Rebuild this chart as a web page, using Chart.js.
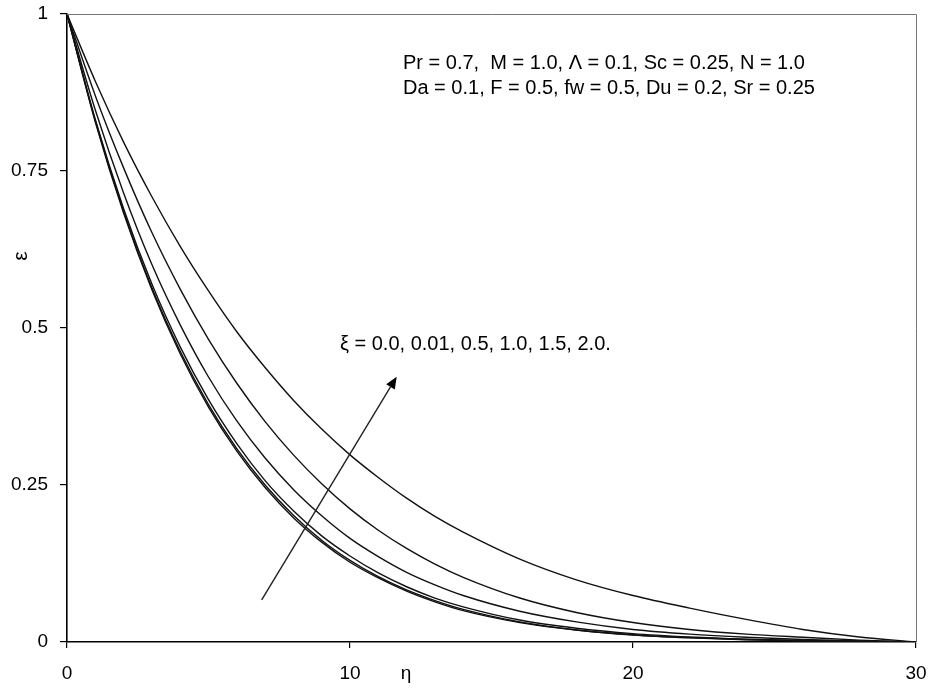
<!DOCTYPE html>
<html>
<head>
<meta charset="utf-8">
<script src="https://cdn.jsdelivr.net/npm/chart.js@4.4.0/dist/chart.umd.min.js"></script>
<style>
html,body{margin:0;padding:0;background:#fff;}
#wrap{width:930px;height:688px;}
</style>
</head>
<body>
<div id="wrap"><canvas id="c" width="930" height="688"></canvas></div>
<script>
// ---- data ----
const etaValues = [0,1,2,3,4,5,6,7,8,9,10,11,12,13,14,16,18,20,22,24,26,28,30];
const xiLabels = ['0.0','0.01','0.5','1.0','1.5','2.0'];
const phiXi00  = [1,0.828,0.683,0.561,0.459,0.374,0.304,0.246,0.198,0.159,0.127,0.102,0.081,0.064,0.050,0.031,0.019,0.011,0.0065,0.0037,0.002,0.0008,0];
const phiXi001 = [1,0.830,0.686,0.564,0.463,0.378,0.308,0.250,0.202,0.162,0.130,0.104,0.083,0.066,0.052,0.032,0.019,0.0116,0.007,0.004,0.002,0.001,0];
const phiXi05  = [1,0.832,0.690,0.570,0.470,0.386,0.316,0.257,0.209,0.169,0.137,0.110,0.088,0.070,0.056,0.035,0.022,0.0133,0.008,0.0045,0.0022,0.001,0];
const phiXi10  = [1,0.847,0.715,0.601,0.505,0.422,0.352,0.293,0.243,0.201,0.165,0.136,0.111,0.091,0.074,0.049,0.032,0.020,0.0125,0.0075,0.004,0.0015,0];
const phiXi15  = [1,0.870,0.755,0.652,0.562,0.482,0.412,0.351,0.298,0.252,0.212,0.178,0.149,0.124,0.103,0.070,0.047,0.031,0.020,0.0125,0.0075,0.003,0];
const phiXi20  = [1,0.893,0.796,0.709,0.630,0.559,0.494,0.437,0.385,0.339,0.298,0.262,0.229,0.200,0.175,0.132,0.099,0.074,0.054,0.036,0.020,0.008,0];
const xTicks = [0,10,20,30];
const yTicks = [0,0.25,0.5,0.75,1];
const paramLine1 = 'Pr = 0.7,  M = 1.0, Λ = 0.1, Sc = 0.25, N = 1.0';
const paramLine2 = 'Da = 0.1, F = 0.5, fw = 0.5, Du = 0.2, Sr = 0.25';
const xiText = 'ξ = 0.0, 0.01, 0.5, 1.0, 1.5, 2.0.';
const arrowFrom = {x: 6.88, y: 0.067};
const arrowTo = {x: 11.65, y: 0.4225};
const xTitle = 'η';
const yTitle = 'ε';

const series = [phiXi00, phiXi001, phiXi05, phiXi10, phiXi15, phiXi20];
const FONT = '"Liberation Sans", Arial, sans-serif';

const datasets = series.map((arr, i) => ({
  label: 'ξ = ' + xiLabels[i],
  data: etaValues.map((e, j) => ({x: e, y: arr[j]})),
  borderColor: '#111',
  borderWidth: 1.4,
  pointRadius: 0,
  fill: false,
  cubicInterpolationMode: 'monotone'
}));

const annot = {
  id: 'annot',
  afterDraw(chart) {
    const ctx = chart.ctx;
    const a = chart.chartArea;
    const xs = chart.scales.x, ys = chart.scales.y;
    ctx.save();
    ctx.strokeStyle = '#777';
    ctx.lineWidth = 1;
    ctx.beginPath();
    ctx.moveTo(a.left, a.top + 0.5);
    ctx.lineTo(a.right + 0.5, a.top + 0.5);
    ctx.lineTo(a.right + 0.5, a.bottom);
    ctx.stroke();
    ctx.fillStyle = '#000';
    ctx.font = '20px ' + FONT;
    ctx.textAlign = 'left';
    ctx.textBaseline = 'alphabetic';
    ctx.fillText(paramLine1, 403, 69);
    ctx.fillText(paramLine2, 403, 94);
    ctx.fillText(xiText, 340, 350);
    const x0 = xs.getPixelForValue(arrowFrom.x), y0 = ys.getPixelForValue(arrowFrom.y);
    const x1 = xs.getPixelForValue(arrowTo.x), y1 = ys.getPixelForValue(arrowTo.y);
    const ang = Math.atan2(y1 - y0, x1 - x0);
    const hl = 12, hw = 5;
    ctx.strokeStyle = '#222';
    ctx.lineWidth = 1.4;
    ctx.beginPath();
    ctx.moveTo(x0, y0);
    ctx.lineTo(x1 - hl * Math.cos(ang), y1 - hl * Math.sin(ang));
    ctx.stroke();
    ctx.fillStyle = '#000';
    ctx.beginPath();
    ctx.moveTo(x1, y1);
    ctx.lineTo(x1 - hl * Math.cos(ang) + hw * Math.sin(ang), y1 - hl * Math.sin(ang) - hw * Math.cos(ang));
    ctx.lineTo(x1 - hl * Math.cos(ang) - hw * Math.sin(ang), y1 - hl * Math.sin(ang) + hw * Math.cos(ang));
    ctx.closePath();
    ctx.fill();
    ctx.font = '19px ' + FONT;
    ctx.textAlign = 'center';
    ctx.fillText(xTitle, 406, 679);
    ctx.translate(27, 256);
    ctx.rotate(-Math.PI / 2);
    ctx.font = '21px ' + FONT;
    ctx.fillText(yTitle, 0, 0);
    ctx.restore();
  }
};

new Chart(document.getElementById('c'), {
  type: 'line',
  data: {datasets},
  options: {
    responsive: false,
    animation: false,
    devicePixelRatio: 1,
    layout: {padding: {left: 0, right: 14, top: 14, bottom: 0}},
    plugins: {legend: {display: false}, tooltip: {enabled: false}},
    scales: {
      x: {
        type: 'linear', min: 0, max: 30,
        afterBuildTicks: s => { s.ticks = xTicks.map(v => ({value: v})); },
        ticks: {font: {size: 19, family: FONT}, color: '#000', padding: 14, maxRotation: 0,
                callback: v => String(v)},
        grid: {display: true, drawOnChartArea: false, drawTicks: true, tickLength: 6, color: '#000', lineWidth: 1.2},
        border: {display: true, color: '#000', width: 1.6},
        afterFit: s => { s.height = 46; s.paddingLeft = 0; s.paddingRight = 0; }
      },
      y: {
        type: 'linear', min: 0, max: 1,
        afterBuildTicks: s => { s.ticks = yTicks.map(v => ({value: v})); },
        ticks: {font: {size: 19, family: FONT}, color: '#000', padding: 12,
                callback: v => String(v)},
        grid: {display: true, drawOnChartArea: false, drawTicks: true, tickLength: 7, color: '#000', lineWidth: 1.2},
        border: {display: true, color: '#000', width: 1.6},
        afterFit: s => { s.width = 67; s.paddingTop = 0; s.paddingBottom = 0; }
      }
    }
  },
  plugins: [annot]
});
</script>
</body>
</html>
